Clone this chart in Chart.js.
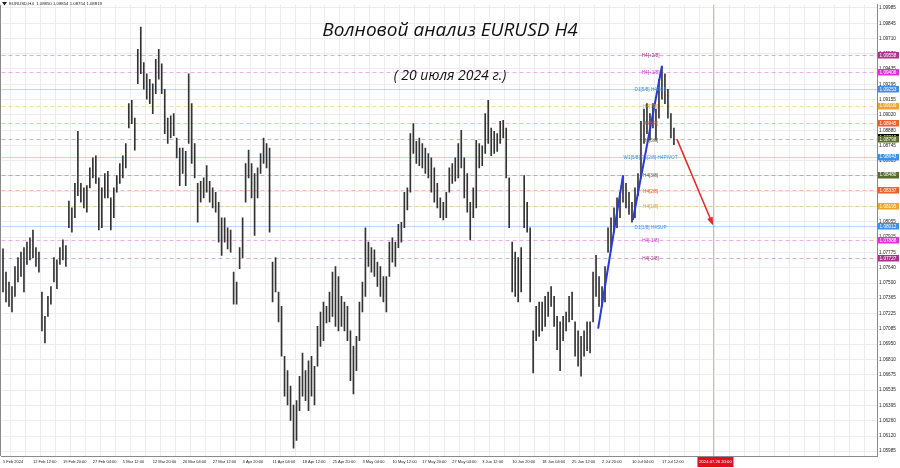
<!DOCTYPE html>
<html><head><meta charset="utf-8">
<script src="https://cdn.jsdelivr.net/npm/chart.js@4/dist/chart.umd.min.js"></script>
<style>html,body{margin:0;padding:0;background:#fff;}#wrap{width:900px;height:468px;position:relative;}</style>
</head><body><div id="wrap"><canvas id="c" width="900" height="468"></canvas></div>
<script>
// --- data: one column ~ 3 H4 bars, high / low prices ---
const highs = [
1.0781,1.0760,1.0751,1.0747,1.0765,1.0773,1.0778,1.0782,1.0787,1.0791,
1.0798,1.0782,1.0778,1.0742,1.0720,1.0738,1.0747,1.0773,1.0771,1.0782,
1.0789,1.0784,1.0824,1.0818,1.0840,1.0887,1.0840,1.0836,1.0838,1.0854,
1.0863,1.0865,1.0845,1.0836,1.0849,1.0851,1.0827,1.0836,1.0847,1.0858,
1.0865,1.0876,1.0912,1.0915,1.0899,1.0961,1.0981,1.0949,1.0939,1.0934,
1.0930,1.0952,1.0961,1.0948,1.0925,1.0899,1.0901,1.0903,1.0881,1.0872,
1.0872,1.0869,1.0939,1.0912,1.0876,1.0840,1.0842,1.0845,1.0856,1.0842,
1.0836,1.0832,1.0823,1.0809,1.0809,1.0800,1.0798,1.0760,1.0751,1.0782,
1.0809,1.0858,1.0870,1.0858,1.0849,1.0854,1.0867,1.0881,1.0876,1.0872,
1.0769,1.0773,1.0742,1.0729,1.0684,1.0671,1.0657,1.0640,1.0644,1.0666,
1.0687,1.0671,1.0680,1.0684,1.0675,1.0711,1.0724,1.0733,1.0729,1.0742,
1.0760,1.0765,1.0756,1.0738,1.0733,1.0729,1.0707,1.0693,1.0702,1.0733,
1.0751,1.0800,1.0787,1.0782,1.0780,1.0769,1.0765,1.0756,1.0756,1.0787,
1.0791,1.0787,1.0803,1.0805,1.0832,1.0836,1.0885,1.0894,1.0878,1.0881,
1.0876,1.0872,1.0867,1.0863,1.0854,1.0840,1.0827,1.0823,1.0832,1.0854,
1.0858,1.0863,1.0876,1.0888,1.0863,1.0849,1.0823,1.0836,1.0879,1.0876,
1.0874,1.0903,1.0915,1.0890,1.0887,1.0885,1.0896,1.0897,1.0890,1.0845,
1.0787,1.0778,1.0773,1.0782,1.0847,1.0823,1.0800,1.0707,1.0729,1.0733,
1.0733,1.0738,1.0742,1.0747,1.0738,1.0720,1.0715,1.0720,1.0724,1.0738,
1.0742,1.0715,1.0707,1.0702,1.0707,1.0715,1.0715,1.0760,1.0775,1.0756,
1.0747,1.0765,1.0800,1.0809,1.0818,1.0827,1.0832,1.0847,1.0840,1.0832,
1.0823,1.0836,1.0849,1.0896,1.0907,1.0912,1.0903,1.0912,1.0907,1.0934,
1.0946,1.0939,1.0925,1.0903,1.0890];
const lows = [
1.0742,1.0733,1.0729,1.0724,1.0738,1.0751,1.0756,1.0742,1.0767,1.0771,
1.0773,1.0765,1.0760,1.0707,1.0696,1.0720,1.0731,1.0751,1.0745,1.0767,
1.0771,1.0765,1.0800,1.0796,1.0809,1.0829,1.0823,1.0818,1.0814,1.0836,
1.0845,1.0840,1.0798,1.0800,1.0827,1.0827,1.0798,1.0809,1.0832,1.0840,
1.0845,1.0854,1.0890,1.0894,1.0870,1.0930,1.0939,1.0925,1.0916,1.0912,
1.0903,1.0921,1.0934,1.0921,1.0885,1.0876,1.0881,1.0883,1.0863,1.0838,
1.0849,1.0838,1.0876,1.0858,1.0845,1.0805,1.0823,1.0827,1.0832,1.0823,
1.0818,1.0814,1.0787,1.0775,1.0787,1.0781,1.0778,1.0731,1.0731,1.0763,
1.0773,1.0823,1.0845,1.0827,1.0793,1.0827,1.0849,1.0858,1.0854,1.0796,
1.0733,1.0742,1.0715,1.0684,1.0648,1.0640,1.0626,1.0601,1.0608,1.0635,
1.0648,1.0644,1.0635,1.0648,1.0640,1.0675,1.0693,1.0698,1.0714,1.0715,
1.0720,1.0711,1.0707,1.0711,1.0707,1.0698,1.0662,1.0650,1.0671,1.0698,
1.0724,1.0738,1.0765,1.0760,1.0756,1.0747,1.0738,1.0733,1.0724,1.0756,
1.0769,1.0765,1.0782,1.0787,1.0800,1.0816,1.0832,1.0867,1.0858,1.0856,
1.0854,1.0849,1.0845,1.0832,1.0823,1.0818,1.0809,1.0807,1.0809,1.0832,
1.0840,1.0842,1.0845,1.0854,1.0827,1.0814,1.0789,1.0809,1.0818,1.0854,
1.0856,1.0867,1.0876,1.0865,1.0867,1.0869,1.0876,1.0881,1.0845,1.0800,
1.0742,1.0738,1.0733,1.0742,1.0800,1.0796,1.0733,1.0669,1.0698,1.0702,
1.0707,1.0711,1.0720,1.0729,1.0711,1.0690,1.0671,1.0698,1.0707,1.0715,
1.0717,1.0684,1.0675,1.0666,1.0684,1.0689,1.0687,1.0715,1.0738,1.0729,
1.0729,1.0733,1.0778,1.0782,1.0796,1.0800,1.0809,1.0823,1.0818,1.0812,
1.0805,1.0809,1.0829,1.0845,1.0876,1.0885,1.0879,1.0890,1.0879,1.0899,
1.0916,1.0912,1.0899,1.0881,1.0875];
const timeLabels = ['5 Feb 2024','12 Feb 12:00','19 Feb 20:00','27 Feb 04:00','5 Mar 12:00','12 Mar 20:00','20 Mar 04:00','27 Mar 12:00','3 Apr 20:00','11 Apr 04:00','18 Apr 12:00','25 Apr 20:00','3 May 04:00','10 May 12:00','17 May 20:00','27 May 04:00','3 Jun 12:00','10 Jun 20:00','18 Jun 04:00','25 Jun 12:00','2 Jul 20:00','10 Jul 04:00','17 Jul 12:00'];
const priceTicks = [1.09985,1.09845,1.09710,1.09570,1.09435,1.09295,1.09155,1.09020,1.08880,1.08745,1.08605,1.08470,1.08330,1.08190,1.08055,1.07915,1.07775,1.07640,1.07500,1.07365,1.07225,1.07085,1.06950,1.06810,1.06675,1.06535,1.06395,1.06260,1.06120,1.05985];
const levelValues = [1.09558,1.09406,1.09253,1.09100,1.08945,1.08798,1.08643,1.08480,1.08337,1.08195,1.08012,1.07888,1.07727];
const levelNames = ['H4[+2/8]','H4[+1/8]','D1[5/8] H4RES','H4[7/8]','H4[6/8]','H4[5/8]','W1[5/8] D1[2/8] H4PIVOT','H4[3/8]','H4[2/8]','H4[1/8]','D1[1/8] H4SUP','H4[-1/8]','H4[-2/8]'];
const symbolName = 'EURUSD,H4';
const lastOHLC = [1.08850,1.08854,1.08754,1.08819];
const trendLine1 = [{x:198.7,y:1.0709},{x:207.0,y:1.0847}];
const trendLine2 = [{x:210.3,y:1.0807},{x:220.0,y:1.0946}];
const forecastArrow = [{x:225.0,y:1.0880},{x:236.8,y:1.0804}];
const futureMarkCol = 237.2;
const futureMarkLabel = '2024.07.26 20:00';
const titleText = 'Волновой анализ EURUSD H4';
const subtitleText = '( 20 июля 2024 г.)';

// --- styles ---
const levelStyle = [
 {c:'#b0308f', dash:true}, {c:'#e02ee0', dash:true}, {c:'#3c8ee6', dash:false},
 {c:'#f0a428', dash:true}, {c:'#f0602a', dash:true}, {c:'#566b2c', dash:true},
 {c:'#3c8ee6', dash:false}, {c:'#566b2c', dash:true}, {c:'#f0602a', dash:true},
 {c:'#f0a428', dash:true}, {c:'#3c8ee6', dash:false}, {c:'#e02ee0', dash:true}, {c:'#b0308f', dash:true}];
const levelText = ['#a02a88','#d22ad2','#3c8ee6','#e89a20','#ec5a22','#55603a','#3c8ee6','#55603a','#ec5a22','#e89a20','#3c8ee6','#d22ad2','#a02a88'];
const FONT = "'Liberation Sans', Arial, sans-serif";

const candles = highs.map((h,i)=>({x:i, y:[lows[i], h]}));

const overlay = {
  id:'overlay',
  beforeDatasetsDraw(chart){
    const {ctx, chartArea:a, scales:{x,y}} = chart;
    ctx.save();
    const mx = Math.round(x.getPixelForValue(futureMarkCol))+0.5;
    ctx.strokeStyle='#cdbcbc'; ctx.lineWidth=1;
    ctx.beginPath(); ctx.moveTo(mx,a.top); ctx.lineTo(mx,a.bottom); ctx.stroke();
    levelValues.forEach((v,i)=>{
      const py = Math.round(y.getPixelForValue(v))+0.5;
      const st = levelStyle[i];
      ctx.strokeStyle = st.c; ctx.globalAlpha = st.dash?0.4:0.35;
      ctx.setLineDash(st.dash?[4,3]:[]);
      ctx.beginPath(); ctx.moveTo(a.left,py); ctx.lineTo(a.right,py); ctx.stroke();
    });
    ctx.restore();
  },
  afterDatasetsDraw(chart){
    const {ctx, chartArea:a, scales:{x,y}} = chart;
    ctx.save();
    const p0 = {x:x.getPixelForValue(forecastArrow[0].x), y:y.getPixelForValue(forecastArrow[0].y)};
    const p1 = {x:x.getPixelForValue(forecastArrow[1].x), y:y.getPixelForValue(forecastArrow[1].y)};
    const ang = Math.atan2(p1.y-p0.y, p1.x-p0.x);
    ctx.fillStyle='#e3262a';
    ctx.beginPath();
    ctx.moveTo(p1.x+2*Math.cos(ang), p1.y+2*Math.sin(ang));
    ctx.lineTo(p1.x-6*Math.cos(ang)+3*Math.sin(ang), p1.y-6*Math.sin(ang)-3*Math.cos(ang));
    ctx.lineTo(p1.x-6*Math.cos(ang)-3*Math.sin(ang), p1.y-6*Math.sin(ang)+3*Math.cos(ang));
    ctx.closePath(); ctx.fill();
    ctx.font = "4.7px "+FONT; ctx.textAlign='center'; ctx.textBaseline='middle';
    const lx = x.getPixelForValue(216.2);
    levelValues.forEach((v,i)=>{
      ctx.fillStyle = levelText[i];
      ctx.fillText(levelNames[i], lx, y.getPixelForValue(v)+1);
    });
    ctx.restore();
  },
  afterDraw(chart){
    const {ctx, chartArea:a, scales:{x,y}} = chart;
    ctx.save();
    ctx.strokeStyle='#8a8a8a'; ctx.lineWidth=1;
    ctx.beginPath(); ctx.moveTo(0.5,a.top); ctx.lineTo(0.5,a.bottom); ctx.stroke();
    ctx.font = "4.7px "+FONT; ctx.textBaseline='middle'; ctx.textAlign='left';
    const box = (v,col)=>{
      const py = y.getPixelForValue(v);
      ctx.fillStyle=col; ctx.fillRect(a.right+1, Math.round(py-3), 21, 6.5);
      ctx.fillStyle='#fff'; ctx.fillText(v.toFixed(5), a.right+2.5, py+0.3);
    };
    box(lastOHLC[3], '#000000');
    levelValues.forEach((v,i)=>box(v, levelStyle[i].c));
    const mx = x.getPixelForValue(futureMarkCol);
    ctx.fillStyle='#e3101c'; ctx.fillRect(mx-16, a.bottom+1, 36, 10);
    ctx.fillStyle='#fff'; ctx.textAlign='center'; ctx.font="4.2px "+FONT;
    ctx.fillText(futureMarkLabel, mx+2, a.bottom+6);
    ctx.fillStyle='#222';
    ctx.beginPath(); ctx.moveTo(2,2); ctx.lineTo(7,2); ctx.lineTo(4.5,5.5); ctx.closePath(); ctx.fill();
    ctx.textAlign='left'; ctx.font="4.3px "+FONT;
    ctx.fillText(symbolName+'  '+lastOHLC.map(v=>v.toFixed(5)).join(' '), 9, 4);
    ctx.fillStyle='#111'; ctx.textAlign='center';
    ctx.font = "italic 19px 'Open Sans', 'DejaVu Sans', sans-serif";
    ctx.fillText(titleText, 450, 31);
    ctx.font = "italic 14px 'Open Sans', 'DejaVu Sans', sans-serif";
    ctx.fillText(subtitleText, 450, 76);
    ctx.restore();
  }
};

new Chart(document.getElementById('c'), {
  type:'bar',
  data:{datasets:[
    {type:'bar', data:candles, backgroundColor:'#333333', barThickness:1, grouped:false, order:3},
    {type:'line', data:trendLine1, borderColor:'#2a3ad8', borderWidth:2, pointRadius:0, order:1},
    {type:'line', data:trendLine2, borderColor:'#2a3ad8', borderWidth:2, pointRadius:0, order:1},
    {type:'line', data:forecastArrow, borderColor:'#e3262a', borderWidth:1.5, pointRadius:0, order:1}
  ]},
  options:{
    responsive:false, animation:false, devicePixelRatio:1,
    layout:{padding:0},
    plugins:{legend:{display:false}, tooltip:{enabled:false}},
    scales:{
      x:{type:'linear', min:-0.5, max:291.8, offset:false,
        grid:{color:'#ececec', drawTicks:false},
        border:{display:true, color:'#8a8a8a'},
        afterBuildTicks:(s)=>{ const t=[]; for(let v=0; v<=290; v+=5) t.push({value:v}); s.ticks=t; },
        afterFit:(s)=>{ s.height=12; },
        ticks:{font:{size:4, family:FONT}, color:'#222', align:'start', maxRotation:0, minRotation:0, autoSkip:false, padding:3,
          callback:(v)=> (v%10===0 && timeLabels[v/10]!==undefined) ? timeLabels[v/10] : ''}
      },
      y:{position:'right', min:1.05940, max:1.10012,
        grid:{color:'#ececec', drawTicks:false},
        border:{display:true, color:'#8a8a8a'},
        afterBuildTicks:(s)=>{ s.ticks = priceTicks.map(v=>({value:v})); },
        afterFit:(s)=>{ s.width=23; },
        ticks:{font:{size:4.7, family:FONT}, color:'#222', padding:2, callback:(v)=>Number(v).toFixed(5)}
      }
    }
  },
  plugins:[overlay]
});
</script></body></html>
